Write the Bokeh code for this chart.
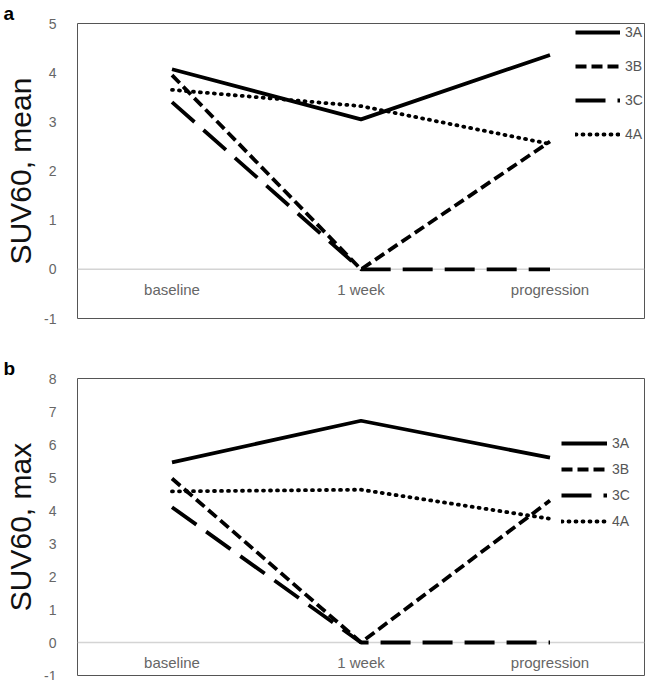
from bokeh.plotting import figure
from bokeh.models import FactorRange, Range1d, FixedTicker, Span, Legend, LegendItem, Title
from bokeh.layouts import column
from bokeh.core.properties import value
from bokeh.embed import file_html
from bokeh.resources import INLINE

timepoints = ["baseline", "1 week", "progression"]
series_names = ["3A", "3B", "3C", "4A"]

# Panel a: SUV60, mean
mean_3A = [4.07, 3.05, 4.36]
mean_3B = [3.95, 0.0, 2.60]
mean_3C = [3.40, 0.0, 0.0]
mean_4A = [3.65, 3.32, 2.55]

# Panel b: SUV60, max
max_3A = [5.46, 6.72, 5.60]
max_3B = [4.97, 0.0, 4.30]
max_3C = [4.10, 0.0, 0.0]
max_4A = [4.58, 4.63, 3.75]

ticks_a = [-1, 0, 1, 2, 3, 4, 5]
ticks_b = [-1, 0, 1, 2, 3, 4, 5, 6, 7, 8]

FONT = "Liberation Sans"
styles = {
    "3A": dict(line_dash="solid"),
    "3B": dict(line_dash="11 5"),
    "3C": dict(line_dash="30 12"),
    "4A": dict(line_dash="1 6", line_cap="round"),
}


def make_panel(tag, ylabel, data, ticks, ymin, ymax, height, top, bottom, cat_y,
               legend_xy, legend_spacing, glyph_w):
    p = figure(width=645, height=height, x_range=FactorRange(*timepoints),
               y_range=Range1d(ymin, ymax), output_backend="svg",
               toolbar_location=None, min_border_left=77, min_border_right=1,
               min_border_top=top, min_border_bottom=bottom)
    p.xaxis.visible = False
    p.xgrid.visible = False
    p.ygrid.visible = False
    p.outline_line_color = "#555555"
    p.outline_line_width = 1
    ax = p.yaxis[0]
    ax.ticker = FixedTicker(ticks=ticks)
    ax.major_label_overrides = {t: str(t) for t in ticks}
    ax.axis_line_color = None
    ax.major_tick_line_color = None
    ax.minor_tick_line_color = None
    ax.major_label_standoff = 15
    ax.major_label_text_font = FONT
    ax.major_label_text_font_size = "14px"
    ax.major_label_text_color = "#666666"
    ax.axis_label = ylabel
    ax.axis_label_text_font = FONT
    ax.axis_label_text_font_size = "30px"
    ax.axis_label_text_font_style = "normal"
    ax.axis_label_text_color = "#111111"
    ax.axis_label_standoff = 4

    p.add_layout(Span(location=0, dimension="width", line_color="#d4d4d4",
                      line_width=1.5, level="underlay"))

    p.text(x=timepoints, y=[cat_y] * 3, text=timepoints, text_align="center",
           text_baseline="middle", text_font=value(FONT), text_font_size="15px",
           text_color="#666666")

    items = []
    for name, ys in zip(series_names, data):
        r = p.line(timepoints, ys, line_color="black", line_width=3.8, **styles[name])
        items.append(LegendItem(label=name, renderers=[r]))

    leg = Legend(items=items, location=legend_xy, glyph_width=glyph_w, glyph_height=20,
                 label_height=20, spacing=legend_spacing, padding=0, margin=0,
                 label_standoff=5, border_line_color=None, background_fill_alpha=0,
                 label_text_font=FONT, label_text_font_size="14px",
                 label_text_color="#555555")
    p.add_layout(leg)

    p.add_layout(Title(text=tag, align="left", offset=-74, standoff=0,
                       text_font=FONT, text_font_size="19px", text_font_style="bold",
                       text_color="black"), "above")
    return p


pa = make_panel("a", "SUV60, mean", [mean_3A, mean_3B, mean_3C, mean_4A], ticks_a,
                -1, 5, 348, 21, 30, -0.42, (498, 174), 14, 45)
pb = make_panel("b", "SUV60, max", [max_3A, max_3B, max_3C, max_4A], ticks_b,
                -1, 8, 332, 30, 5, -0.6, (484, 144), 6, 46)

layout = column(pa, pb, spacing=0)
open("out.html", "w").write(file_html(layout, INLINE))
